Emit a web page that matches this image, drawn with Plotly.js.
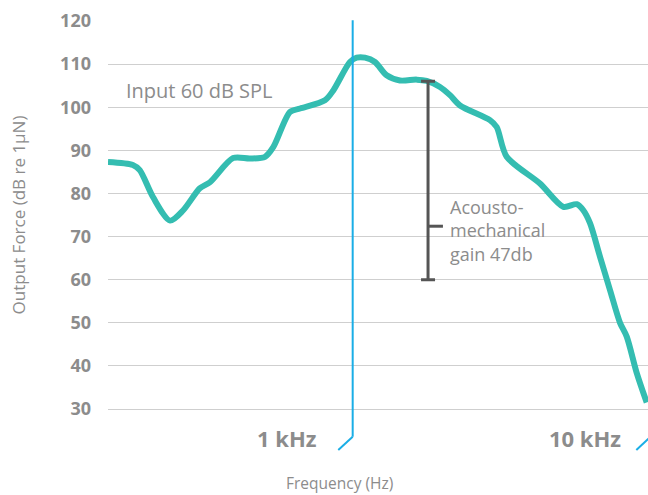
<!DOCTYPE html>
<html>
<head>
<meta charset="utf-8">
<script src="https://cdn.plot.ly/plotly-3.0.1.min.js"></script>
<style>html,body{margin:0;padding:0;background:#fff;}#chart{width:648px;height:495px;}</style>
</head>
<body>
<div id="chart"></div>
<script>
// Frequency response (Hz) and output force (dB re 1µN)
const freqHz = [151, 183, 193, 214, 244, 270, 307, 332, 397, 452, 508, 542, 616, 666, 807, 861, 979, 1031, 1100, 1188, 1300, 1441, 1640, 1772, 1963, 2121, 2291, 2888, 3042, 3287, 4251, 5090, 5646, 5940, 6257, 6760, 7302, 7889, 8309, 8974, 9696];
const forceDb = [87.3, 86.6, 85.4, 79.1, 73.7, 76.1, 81.2, 82.6, 88.2, 88.1, 88.5, 90.8, 98.9, 99.7, 101.6, 103.9, 110.5, 111.5, 111.5, 110.5, 107.4, 106.2, 106.4, 106.1, 104.7, 102.8, 100.4, 97.0, 95.4, 88.5, 82.3, 76.9, 77.5, 76.1, 73.1, 65.3, 57.6, 50.0, 46.8, 38.4, 31.5];

// Acousto-mechanical gain bracket
const gainFreq = 1790;
const gainTop = 106;
const gainBottom = 60;
const gainMid = 72.4;
const gainLabel = ["Acousto-", "mechanical", "gain 47db"];

// Axis ticks and labels
const yTicks = [30, 40, 50, 60, 70, 80, 90, 100, 110, 120];
const xTickVals = [1000, 10000];
const xTickText = ["1 kHz", "10 kHz"];
const inputLabel = "Input 60 dB SPL";
const inputLabelLevel = 103.8;

const xRange = [Math.log10(151), Math.log10(9793)];
const yRange = [30, 120];
const toPaperX = f => (Math.log10(f) - xRange[0]) / (xRange[1] - xRange[0]);

const GRAY = "#8c8c8c";
const FONT = "Open Sans, sans-serif";

const traces = [
  {
    x: freqHz, y: forceDb, type: "scatter", mode: "lines",
    line: {color: "#34bdb1", width: 6, shape: "spline", smoothing: 0.8},
    hoverinfo: "skip", showlegend: false
  },
  {
    x: [gainFreq], y: [gainMid], type: "scatter", mode: "markers",
    marker: {size: 1, color: "rgba(0,0,0,0)"},
    error_y: {type: "data", symmetric: false, array: [gainTop - gainMid], arrayminus: [gainMid - gainBottom], width: 7, thickness: 3, color: "#555555"},
    hoverinfo: "skip", showlegend: false
  },
  {
    x: [gainFreq, Math.pow(10, Math.log10(gainFreq) + 0.05)], y: [gainMid, gainMid],
    type: "scatter", mode: "lines", line: {color: "#555555", width: 3},
    hoverinfo: "skip", showlegend: false
  }
];

// Blue decade markers with slanted foot below the axis
const BLUE = "#1aaee6";
const shapes = [];
const footTop = -0.0714, footBottom = -0.1057, footDx = 14.4 / 540;
xTickVals.forEach((f, i) => {
  const px = toPaperX(f);
  if (i === 0) {
    shapes.push({type: "line", xref: "paper", yref: "paper", x0: px, x1: px, y0: 1.002, y1: footTop, line: {color: BLUE, width: 2}, layer: "above"});
  }
  shapes.push({type: "line", xref: "paper", yref: "paper", x0: px, x1: px - footDx, y0: footTop, y1: footBottom, line: {color: BLUE, width: 2}, layer: "above"});
});

const annotations = [
  {xref: "x", yref: "y", x: Math.log10(151), y: inputLabelLevel, xshift: 16, text: inputLabel, showarrow: false, xanchor: "left", yanchor: "middle", font: {family: FONT, size: 20, color: GRAY}},
  {xref: "paper", yref: "paper", x: (339.7 - 108) / 540, y: (409 - 483) / 388, text: "Frequency (Hz)", showarrow: false, xanchor: "center", yanchor: "middle", font: {family: FONT, size: 15.5, color: GRAY}},
  {xref: "x", yref: "y", x: Math.log10(gainFreq), y: gainMid, xshift: 20, yshift: -4, text: gainLabel.join("<br>"), align: "left", showarrow: false, xanchor: "left", yanchor: "middle", font: {family: FONT, size: 18, color: GRAY}}
];
xTickVals.forEach((f, i) => {
  annotations.push({xref: "paper", yref: "paper", x: toPaperX(f), y: (409 - 438) / 388, xshift: -66, text: xTickText[i], showarrow: false, xanchor: "center", yanchor: "middle", font: {family: FONT, size: 22, color: GRAY, weight: "bold"}});
});

const layout = {
  width: 648, height: 495,
  margin: {l: 108, r: 0, t: 21, b: 86, pad: 0},
  paper_bgcolor: "#ffffff", plot_bgcolor: "#ffffff",
  showlegend: false,
  xaxis: {
    type: "log", range: xRange, showgrid: false, zeroline: false,
    showline: true, linecolor: "#cfcfcf", linewidth: 1,
    showticklabels: false, ticks: ""
  },
  yaxis: {
    range: yRange, tickvals: yTicks, showgrid: true, gridcolor: "#cfcfcf", gridwidth: 1,
    zeroline: false, showline: false, ticks: "", ticklabelstandoff: 16,
    tickfont: {family: FONT, size: 18, color: GRAY, weight: "bold"},
    title: {text: "Output Force (dB re 1µN)", standoff: 30, font: {family: FONT, size: 17, color: GRAY}}
  },
  shapes: shapes,
  annotations: annotations
};

Plotly.newPlot("chart", traces, layout, {displayModeBar: false, staticPlot: true});
</script>
</body>
</html>
